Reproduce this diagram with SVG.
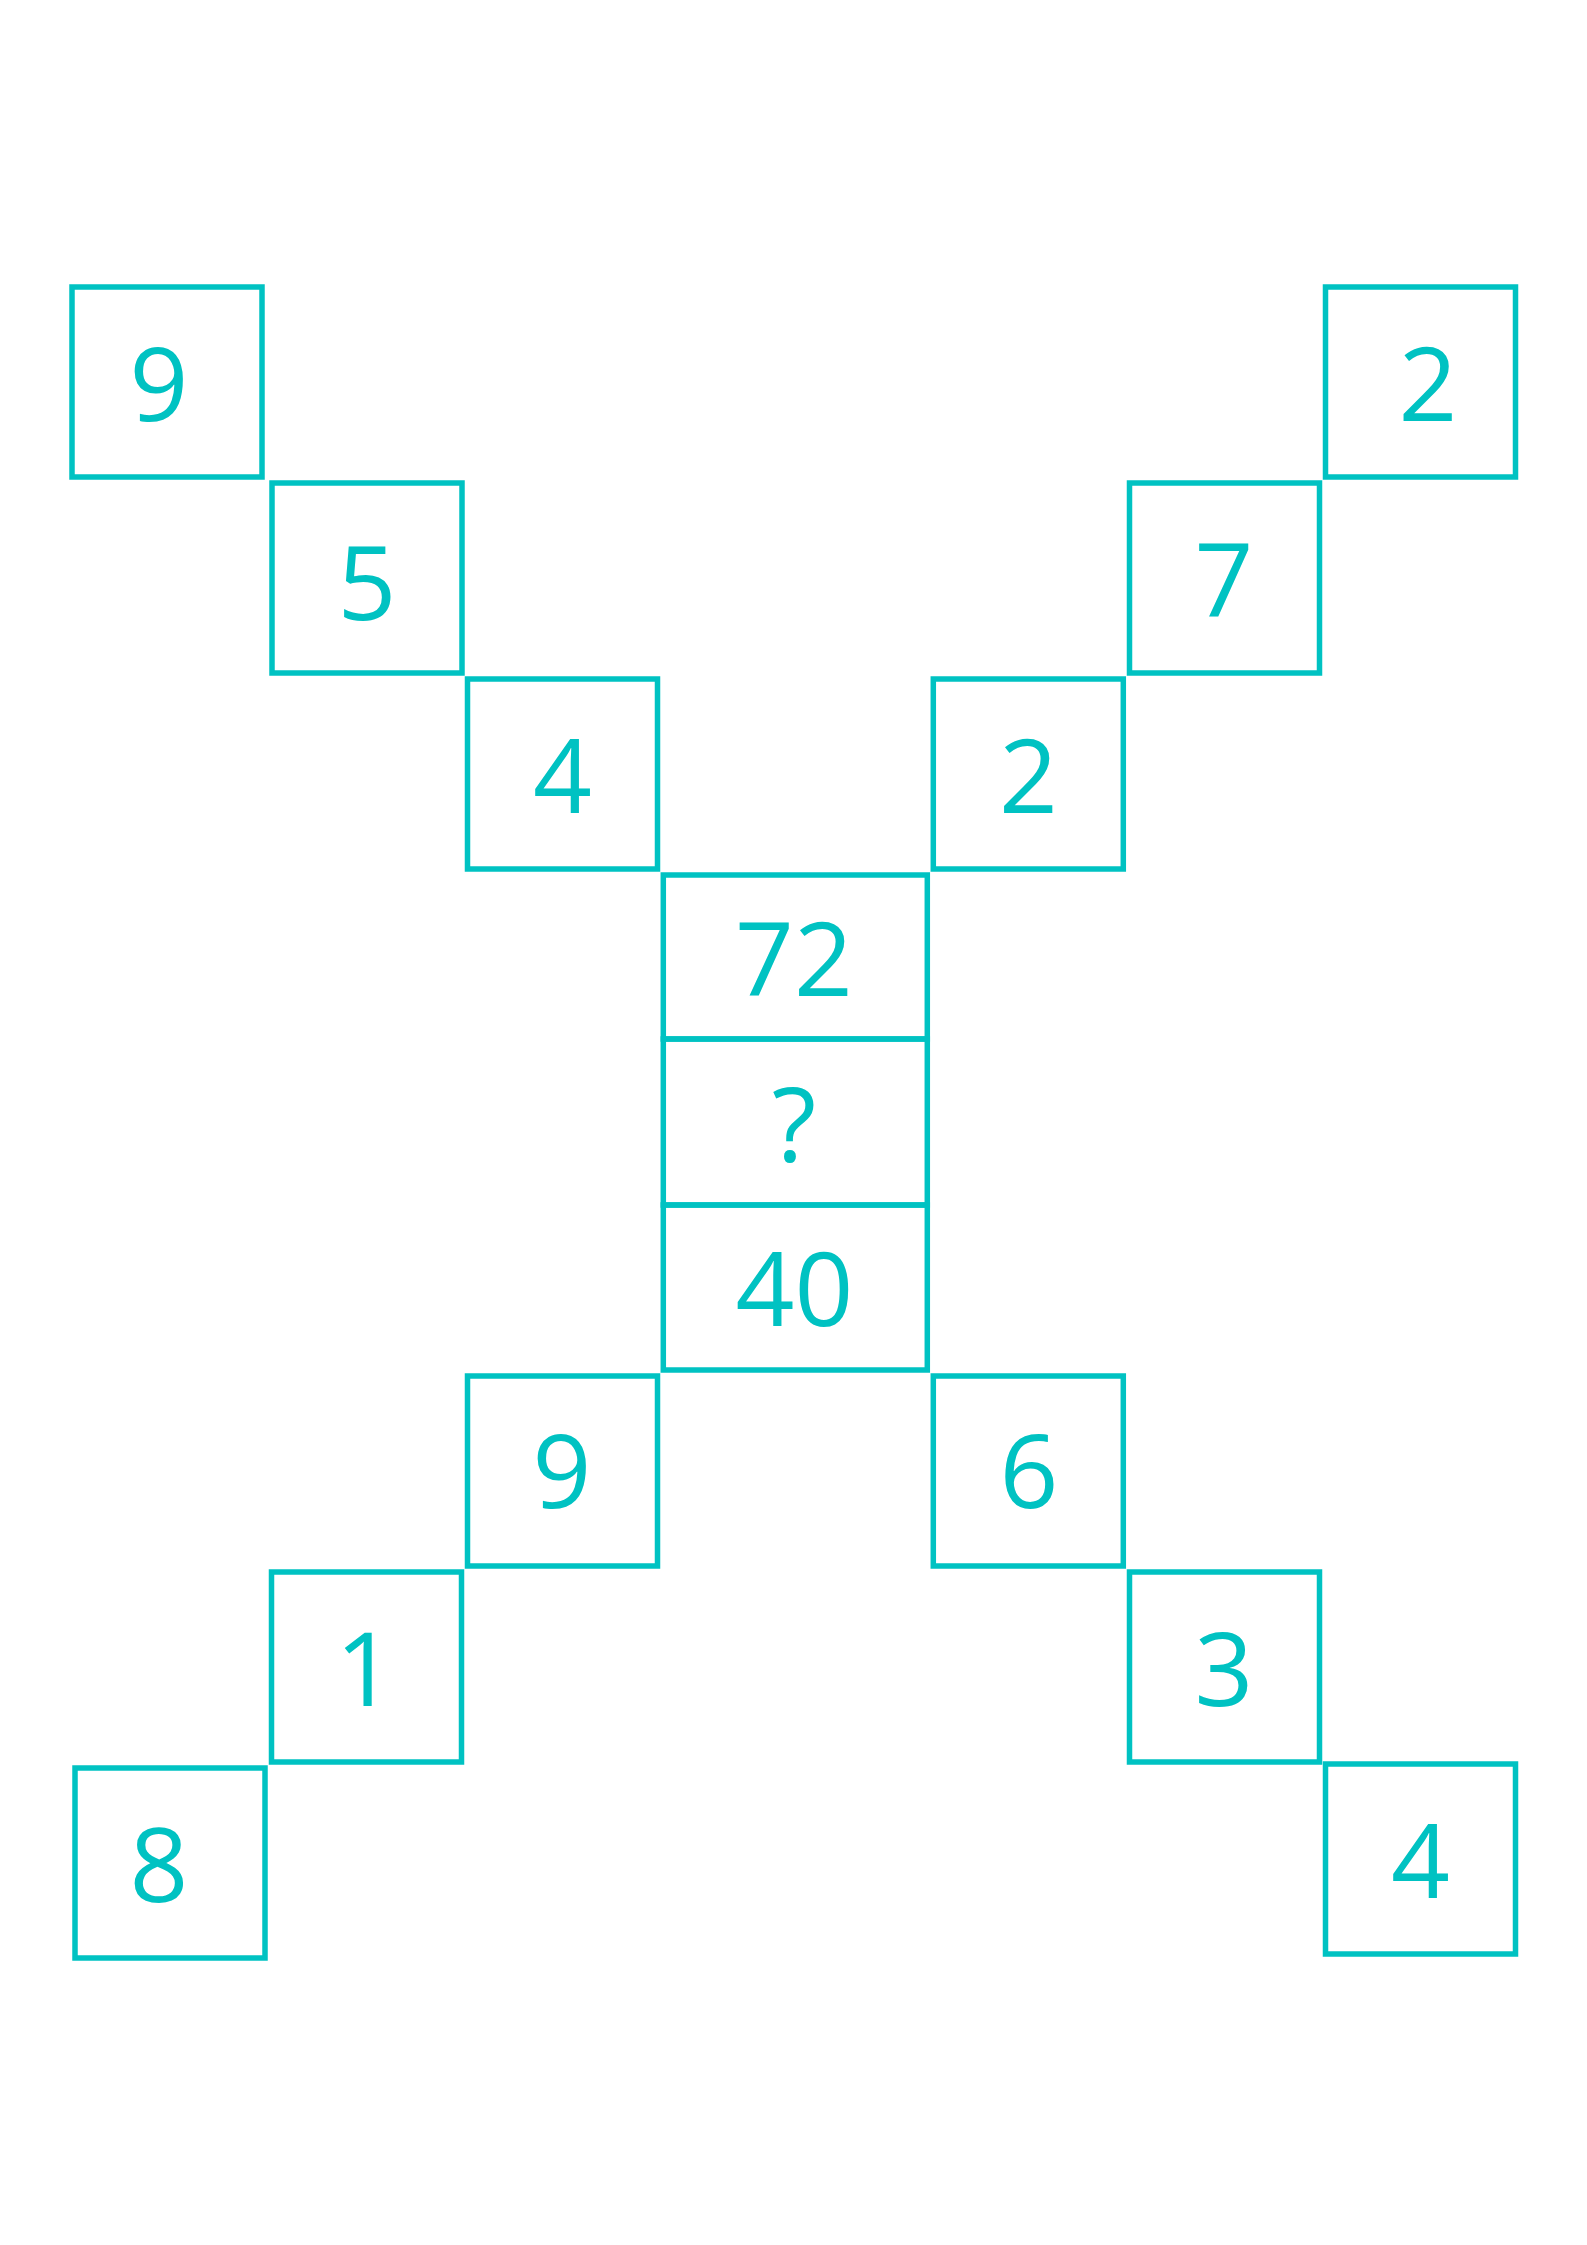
<svg xmlns="http://www.w3.org/2000/svg" width="1587" height="2245" viewBox="0 0 1587 2245">
<style>
.box{fill:none;stroke:#00c2c2;stroke-width:5.5}
.num{fill:#00c2c2;font-family:"Open Sans","Noto Sans","DejaVu Sans",sans-serif;font-size:103px;text-anchor:middle}
</style>
<rect width="1587" height="2245" fill="#ffffff"/>
<g id="n-9a"><rect class="box" x="72" y="287" width="190" height="190"/><text class="num" x="159" y="421">9</text></g>
<g id="n-5"><rect class="box" x="272" y="483" width="190" height="190"/><text class="num" x="367" y="620">5</text></g>
<g id="n-4a"><rect class="box" x="467.5" y="679" width="190" height="190"/><text class="num" x="562.5" y="813">4</text></g>
<g id="n-2a"><rect class="box" x="1325.5" y="287" width="190" height="190"/><text class="num" x="1428" y="421">2</text></g>
<g id="n-7"><rect class="box" x="1129.5" y="483" width="190" height="190"/><text class="num" x="1224" y="617">7</text></g>
<g id="n-2b"><rect class="box" x="933.3" y="679" width="190" height="190"/><text class="num" x="1028.5" y="813">2</text></g>
<g id="n-72"><rect class="box" x="663.3" y="875" width="264" height="164"/><text class="num" x="794" y="996">72</text></g>
<g id="n-q"><rect class="box" x="663.3" y="1039" width="264" height="166"/><text class="num" x="794" y="1162">?</text></g>
<g id="n-40"><rect class="box" x="663.3" y="1205" width="264" height="165"/><text class="num" x="794.5" y="1326">40</text></g>
<g id="n-9b"><rect class="box" x="467.5" y="1376" width="190" height="190"/><text class="num" x="562" y="1508">9</text></g>
<g id="n-6"><rect class="box" x="933.3" y="1376" width="190" height="190"/><text class="num" x="1029" y="1508">6</text></g>
<g id="n-1"><rect class="box" x="271.5" y="1572" width="190" height="190"/><text class="num" x="365" y="1706">1</text></g>
<g id="n-3"><rect class="box" x="1129.5" y="1572" width="190" height="190"/><text class="num" x="1224" y="1706">3</text></g>
<g id="n-8"><rect class="box" x="75" y="1768" width="190" height="190"/><text class="num" x="159" y="1902">8</text></g>
<g id="n-4b"><rect class="box" x="1325.5" y="1764" width="190" height="190"/><text class="num" x="1420.5" y="1898">4</text></g>
<g id="connectors"></g>
</svg>
